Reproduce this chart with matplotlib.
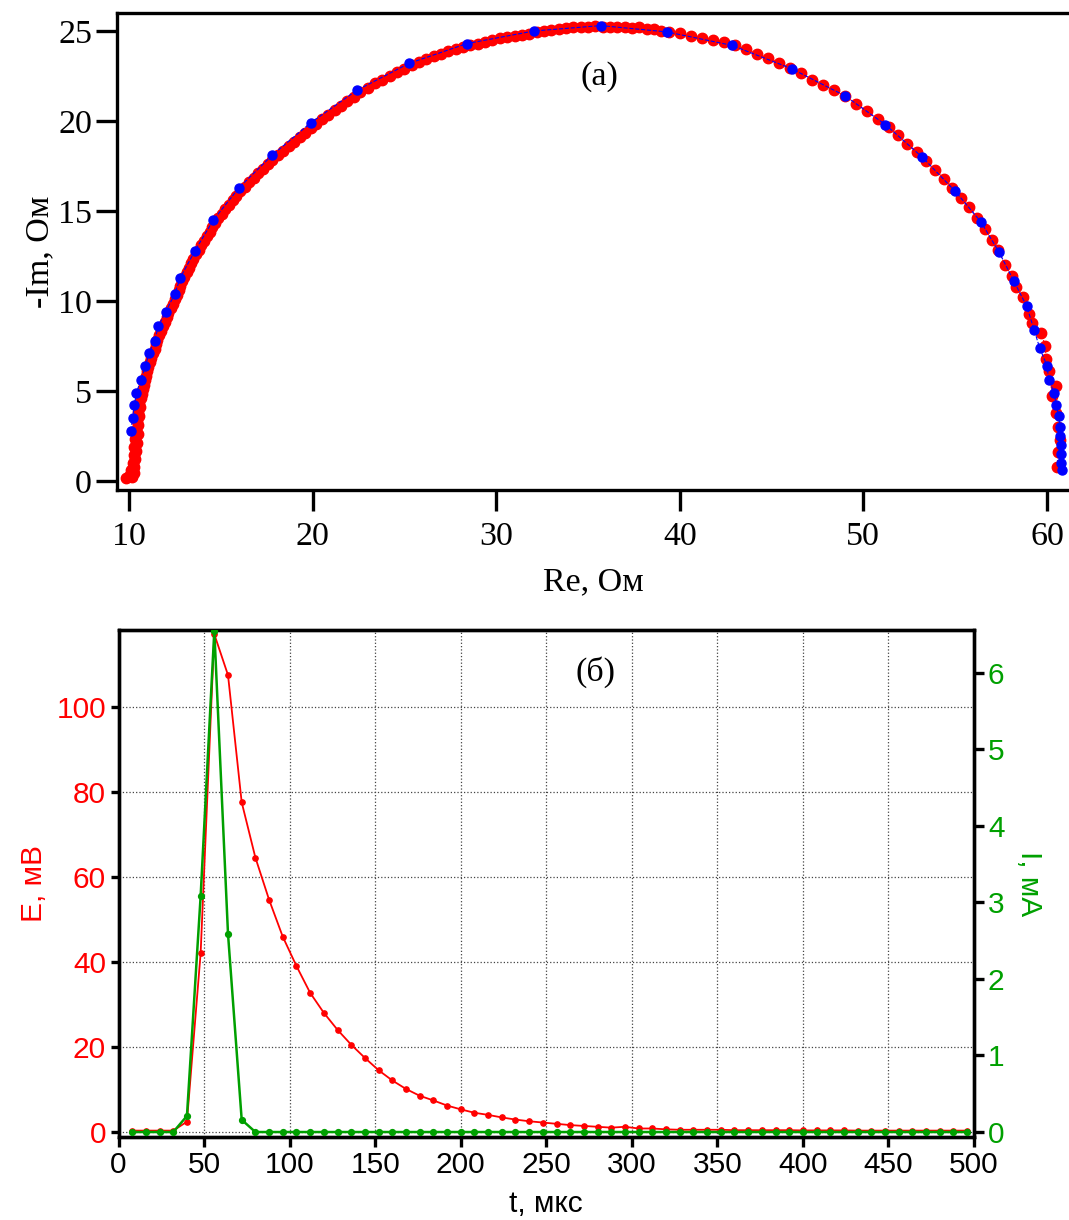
import matplotlib
matplotlib.use("Agg")
import matplotlib.pyplot as plt

# (a) impedance arc, dense red measurement
red_pts = [
    (9.85, 0.15), (10.0, 0.3), (10.15, 0.2), (10.25, 0.45), (10.1, 0.6), (10.3, 0.8),
    (10.2, 1.0), (10.35, 1.2), (10.25, 1.45), (10.4, 1.65), (10.3, 1.9), (10.45, 2.1),
    (10.35, 2.35), (10.5, 2.6), (10.4, 2.85), (10.5, 3.1), (10.45, 3.35), (10.55, 3.6),
    (10.5, 3.85), (10.6, 4.1), (10.55, 4.35), (10.65, 4.6), (10.7, 4.85), (10.75, 5.1),
    (10.8, 5.35), (10.9, 5.6), (10.95, 5.85), (11.0, 6.1), (11.05, 6.35), (11.15, 6.6),
    (11.2, 6.85), (11.3, 7.1), (11.4, 7.35), (11.5, 7.6), (11.55, 7.85), (11.65, 8.1),
    (11.75, 8.35), (11.85, 8.6), (11.95, 8.85), (12.05, 9.1), (12.15, 9.35), (12.3, 9.6),
    (12.4, 9.85), (12.5, 10.1), (12.6, 10.35), (12.7, 10.6), (12.8, 10.85), (12.9, 11.1),
    (13.0, 11.35), (13.15, 11.6), (13.25, 11.85), (13.4, 12.1), (13.5, 12.35), (13.65, 12.6),
    (13.8, 12.85), (13.95, 13.1), (14.1, 13.35), (14.25, 13.6), (14.4, 13.85), (14.55, 14.1),
    (14.7, 14.35), (14.85, 14.6), (15.05, 14.85), (15.25, 15.1), (15.45, 15.35), (15.65, 15.6),
    (15.85, 15.85), (16.05, 16.1), (16.3, 16.35), (16.55, 16.6), (16.8, 16.85), (17.05, 17.1),
    (17.3, 17.35), (17.55, 17.6), (17.8, 17.85), (18.1, 18.1), (18.4, 18.35), (18.7, 18.6),
    (19.0, 18.85), (19.3, 19.1), (19.6, 19.35), (19.9, 19.6), (20.2, 19.85), (20.5, 20.1),
    (20.85, 20.35), (21.2, 20.6), (21.55, 20.85), (21.9, 21.1), (22.25, 21.35), (22.6, 21.6),
    (23.0, 21.85), (23.4, 22.1), (23.8, 22.3), (24.2, 22.5), (24.6, 22.7), (25.0, 22.9),
    (25.4, 23.1), (25.8, 23.3), (26.2, 23.45), (26.6, 23.6), (27.0, 23.75), (27.4, 23.9),
    (27.8, 24.0), (28.2, 24.1), (28.6, 24.2), (29.0, 24.3), (29.4, 24.4), (29.8, 24.5),
    (30.2, 24.6), (30.6, 24.65), (31.0, 24.75), (31.4, 24.8), (31.8, 24.85), (32.2, 24.95),
    (32.6, 25.0), (33.0, 25.05), (33.4, 25.1), (33.8, 25.15), (34.2, 25.2), (34.6, 25.2),
    (35.0, 25.25), (35.4, 25.3), (35.8, 25.25), (36.2, 25.2), (36.6, 25.25), (37.0, 25.2),
    (37.4, 25.15), (37.8, 25.2), (38.2, 25.1), (38.6, 25.1), (39.0, 25.0), (39.4, 24.95),
    (40.0, 24.9), (40.6, 24.75), (41.2, 24.6), (41.8, 24.5), (42.4, 24.4),
    (43.0, 24.2), (43.6, 24.0), (44.2, 23.75), (44.8, 23.5), (45.4, 23.25),
    (46.0, 22.95), (46.6, 22.65), (47.2, 22.3), (47.8, 22.0), (48.4, 21.7),
    (49.0, 21.4), (49.6, 20.95), (50.2, 20.55), (50.8, 20.1), (51.4, 19.65),
    (51.9, 19.2), (52.4, 18.75), (52.9, 18.3), (53.4, 17.8), (53.9, 17.3),
    (54.4, 16.8), (54.85, 16.3), (55.3, 15.75), (55.75, 15.2), (56.2, 14.6),
    (56.6, 14.0), (57.0, 13.4), (57.35, 12.85), (57.7, 12.0), (58.1, 11.4),
    (58.3, 10.8), (58.7, 10.2), (59.0, 9.3), (59.2, 8.8), (59.7, 8.2), (59.9, 7.5),
    (59.95, 6.8), (60.1, 6.1), (60.5, 5.3), (60.3, 4.7), (60.5, 3.8), (60.6, 3.0),
    (60.7, 2.3), (60.6, 1.6), (60.55, 0.8),
]

# (a) blue reference points
blue_pts = [
    (10.1, 2.8), (10.2, 3.5), (10.3, 4.2), (10.4, 4.9), (10.65, 5.6), (10.9, 6.4),
    (11.1, 7.1), (11.4, 7.8), (11.6, 8.6), (12.0, 9.4), (12.5, 10.4), (12.8, 11.3),
    (13.6, 12.8), (14.6, 14.5), (16.0, 16.3), (17.8, 18.1), (19.9, 19.9), (22.4, 21.7),
    (25.25, 23.2), (28.4, 24.3), (32.05, 25.0), (35.7, 25.3), (39.3, 24.95), (42.85, 24.2),
    (46.1, 22.9), (49.0, 21.4), (51.2, 19.8), (53.2, 18.0), (55.0, 16.1), (56.4, 14.4),
    (57.4, 12.7), (58.2, 11.1), (58.9, 9.7), (59.3, 8.4), (59.6, 7.4), (60.0, 6.4),
    (60.1, 5.6), (60.4, 4.9), (60.5, 4.2), (60.65, 3.6), (60.7, 3.0), (60.72, 2.5),
    (60.75, 2.0), (60.75, 1.5), (60.78, 1.0), (60.8, 0.6),
]

# (б) transient
t_us = [8, 16, 24, 32, 40, 48, 56, 64, 72, 80, 88, 96, 104, 112, 120, 128, 136, 144,
        152, 160, 168, 176, 184, 192, 200, 208, 216, 224, 232, 240, 248, 256, 264, 272,
        280, 288, 296, 304, 312, 320, 328, 336, 344, 352, 360, 368, 376, 384, 392, 400,
        408, 416, 424, 432, 440, 448, 456, 464, 472, 480, 488, 496]
e_mv = [0.3, 0.3, 0.3, 0.3, 2.4, 42.0, 117.0, 107.4, 77.5, 64.5, 54.6, 45.9, 39.0, 32.7,
        28.0, 24.0, 20.5, 17.4, 14.5, 12.1, 10.1, 8.5, 7.4, 6.2, 5.3, 4.5, 4.0, 3.4, 2.9,
        2.5, 2.2, 1.9, 1.6, 1.4, 1.2, 1.0, 1.2, 0.8, 0.8, 0.6, 0.5, 0.5, 0.5, 0.5, 0.4,
        0.4, 0.4, 0.4, 0.4, 0.35, 0.35, 0.35, 0.35, 0.3, 0.3, 0.3, 0.3, 0.3, 0.3, 0.3,
        0.3, 0.3]
i_ma = [0.0, 0.0, 0.0, 0.0, 0.21, 3.08, 6.55, 2.59, 0.16, 0.0, 0.0, 0.0, 0.0, 0.0,
        0.0, 0.0, 0.0, 0.0, 0.0, 0.0, 0.0, 0.0, 0.0, 0.0, 0.0, 0.0, 0.0, 0.0, 0.0, 0.0,
        0.0, 0.0, 0.0, 0.0, 0.0, 0.0, 0.0, 0.0, 0.0, 0.0, 0.0, 0.0, 0.0, 0.0, 0.0, 0.0,
        0.0, 0.0, 0.0, 0.0, 0.0, 0.0, 0.0, 0.0, 0.0, 0.0, 0.0, 0.0, 0.0, 0.0, 0.0, 0.0]

GREEN = '#00a000'
W, H = 1069, 1220
fig = plt.figure(figsize=(W / 100, H / 100), dpi=100)

# ---------- (a) ----------
serif = 'Liberation Serif'
ax1 = fig.add_axes([117 / W, 1 - 490 / H, (W - 117) / W, 477 / H])
rx, ry = zip(*red_pts)
bx, by = zip(*blue_pts)
ax1.plot(rx, ry, color='red', ls=':', lw=0.8, marker='o', ms=7.5, mec='red', mfc='red')
ax1.plot(bx, by, color='blue', ls='--', lw=0.8, marker='o', ms=6.5, mec='blue', mfc='blue')
ax1.set_xlim(9.35, 61.2)
ax1.set_ylim(-0.5, 26.0)
ax1.set_xticks([10, 20, 30, 40, 50, 60])
ax1.set_yticks([0, 5, 10, 15, 20, 25])
ax1.spines['right'].set_visible(False)
for s in ('left', 'bottom', 'top'):
    ax1.spines[s].set_linewidth(2.4)
ax1.tick_params(direction='out', length=15, width=2.4, labelsize=24.5, pad=3)
ax1.tick_params(axis='x', pad=8)
for lab in ax1.get_xticklabels() + ax1.get_yticklabels():
    lab.set_fontfamily(serif)
ax1.set_xlabel('Re, Ом', fontsize=24.5, family=serif, labelpad=10)
ax1.set_ylabel('-Im, Ом', fontsize=24.5, family=serif, labelpad=2)
ax1.text(35.65, 22.45, '(a)', fontsize=24.5, family=serif, ha='center', va='center')

# ---------- (б) ----------
sans = 'Liberation Sans'
ax2 = fig.add_axes([118.5 / W, 1 - 1137 / H, (974 - 118.5) / W, (1137 - 630) / H])
ax3 = ax2.twinx()
ax2.plot(t_us, e_mv, color='red', lw=1.3, marker='o', ms=3.8, zorder=3)
ax3.plot(t_us, i_ma, color=GREEN, lw=1.8, marker='o', ms=4.2, zorder=3)
ax2.set_xlim(0, 500)
ax2.set_ylim(-1.2, 118.0)
ax3.set_ylim(-0.065, 6.56)
ax2.set_xticks(range(0, 501, 50))
ax2.set_yticks([0, 20, 40, 60, 80, 100])
ax3.set_yticks([0, 1, 2, 3, 4, 5, 6])
ax2.grid(True, color='#444444', ls=':', lw=0.9)
for a in (ax2, ax3):
    for s in a.spines.values():
        s.set_linewidth(2.4)
ax2.tick_params(axis='x', direction='out', length=7, width=2.4, labelsize=21.5, pad=3)
ax2.tick_params(axis='y', direction='out', length=6, width=2.4, labelsize=21.5,
                labelcolor='red', pad=3)
ax3.tick_params(axis='y', direction='out', length=7, width=2.4, labelsize=21.5,
                labelcolor=GREEN, pad=3)
for lab in ax2.get_xticklabels() + ax2.get_yticklabels() + ax3.get_yticklabels():
    lab.set_fontfamily(sans)
ax2.set_xlabel('t, мкс', fontsize=21.5, family=sans, labelpad=8)
ax2.set_ylabel('E, мВ', fontsize=21.5, family=sans, color='red', labelpad=6)
ax3.set_ylabel('I, мА', fontsize=21.5, family=sans, color=GREEN, rotation=270,
               labelpad=28)
ax2.text(278.5, 108.2, '(б)', fontsize=24.5, family=serif, ha='center', va='center')

fig.savefig('out.png', dpi=100)
